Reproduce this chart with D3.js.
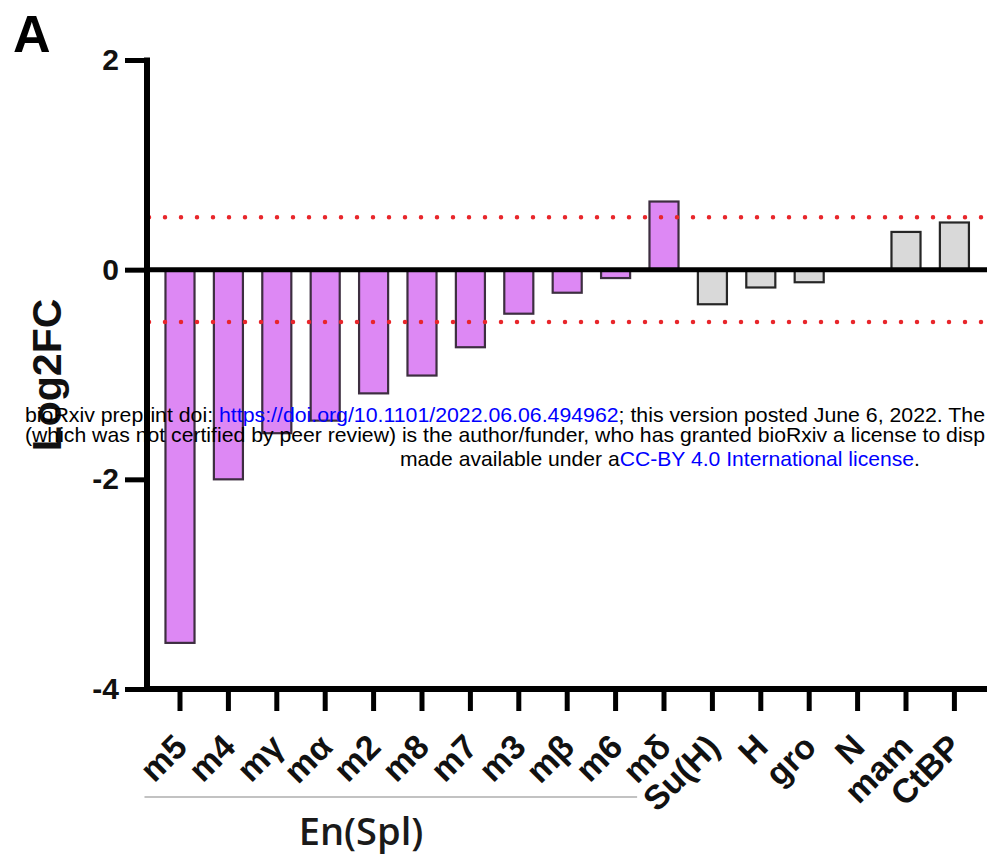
<!DOCTYPE html>
<html>
<head>
<meta charset="utf-8">
<script src="https://cdn.jsdelivr.net/npm/d3@7"></script>
<style>
    body { margin: 0; background: #ffffff; }
    svg { display: block; }
</style>
</head>
<body>
<div id="chart-container"></div>
<script>
// values
var genes = ["m5", "m4", "mγ", "mα", "m2", "m8", "m7", "m3", "mβ", "m6", "mδ", "Su(H)", "H", "gro", "N", "mam", "CtBP"];
var log2fc = [-3.56, -2.00, -1.56, -1.44, -1.18, -1.01, -0.74, -0.42, -0.22, -0.08, 0.65, -0.33, -0.17, -0.12, 0, 0.36, 0.45];
var groupFlag = ["spl", "spl", "spl", "spl", "spl", "spl", "spl", "spl", "spl", "spl", "spl", "other", "other", "other", "other", "other", "other"];
var enSplGenes = ["m5", "m4", "mγ", "mα", "m2", "m8", "m7", "m3", "mβ", "m6"];
var yTicks = [2, 0, -2, -4];
var cutoffs = [0.5, -0.5];

var barData = genes.map(function (g, i) {
    return { gene: g, value: log2fc[i], group: groupFlag[i] };
});

var width = 987;
var height = 861;

var svg = d3.select("#chart-container")
    .append("svg")
    .attr("width", width)
    .attr("height", height);

var xScale = d3.scaleBand()
    .domain(genes)
    .range([155.8, 155.8 + genes.length * 48.4])
    .paddingInner(0.4)
    .paddingOuter(0.2);

var yScale = d3.scaleLinear()
    .domain([-4, 2])
    .range([689, 60]);

var axisX = 147;

// bars
svg.selectAll("rect.bar")
    .data(barData)
    .enter()
    .append("rect")
    .attr("class", "bar")
    .attr("x", function (d) { return xScale(d.gene); })
    .attr("y", function (d) { return yScale(Math.max(0, d.value)); })
    .attr("width", xScale.bandwidth())
    .attr("height", function (d) { return Math.abs(yScale(d.value) - yScale(0)); })
    .attr("fill", function (d) { return d.group === "spl" ? "#dd88f4" : "#d9d9d9"; })
    .attr("stroke", function (d) { return d.group === "spl" ? "#3d2e40" : "#262626"; })
    .attr("stroke-width", 2.2)
    .style("display", function (d) { return d.value === 0 ? "none" : null; });

// zero line
svg.append("line")
    .attr("x1", axisX)
    .attr("x2", width)
    .attr("y1", yScale(0))
    .attr("y2", yScale(0))
    .attr("stroke", "#000")
    .attr("stroke-width", 5);

// red dotted cutoff lines
svg.selectAll("line.cutoff")
    .data(cutoffs)
    .enter()
    .append("line")
    .attr("class", "cutoff")
    .attr("x1", 149)
    .attr("x2", width)
    .attr("y1", function (d) { return yScale(d); })
    .attr("y2", function (d) { return yScale(d); })
    .attr("stroke", "#e8262b")
    .attr("stroke-width", 4.5)
    .attr("stroke-linecap", "round")
    .attr("stroke-dasharray", "0,16");

// Y axis
var yAxis = svg.append("g")
    .attr("transform", "translate(" + axisX + ",0)")
    .call(d3.axisLeft(yScale).tickValues(yTicks).tickSize(22).tickPadding(6)
        .tickFormat(function (d) { return String(d); }));
yAxis.select(".domain")
    .attr("d", "M0," + (yScale(2) - 2.5) + "V" + (yScale(-4) + 2.5))
    .attr("stroke-width", 6);
yAxis.selectAll(".tick line").attr("stroke-width", 5);
yAxis.selectAll("text")
    .attr("font-family", "'Liberation Sans', Arial, sans-serif")
    .attr("font-weight", "bold")
    .attr("font-size", 30)
    .attr("fill", "#111");

// X axis
var xAxis = svg.append("g")
    .attr("transform", "translate(0," + yScale(-4) + ")")
    .call(d3.axisBottom(xScale).tickSize(22).tickSizeOuter(0));
xAxis.select(".domain")
    .attr("d", "M" + (axisX - 3) + ",0H" + width)
    .attr("stroke-width", 6);
xAxis.selectAll(".tick line").attr("stroke-width", 5);
xAxis.selectAll("text")
    .attr("font-family", "'Liberation Sans', Arial, sans-serif")
    .attr("font-weight", "bold")
    .attr("font-size", 34)
    .attr("fill", "#111")
    .attr("text-anchor", "end")
    .attr("y", 0)
    .attr("dy", 0)
    .attr("transform", "translate(9,60) rotate(-45)");

// group underline and label
svg.append("line")
    .attr("x1", xScale(enSplGenes[0]) - 21)
    .attr("x2", xScale(enSplGenes[enSplGenes.length - 1]) + xScale.bandwidth() + 7)
    .attr("y1", 797)
    .attr("y2", 797)
    .attr("stroke", "#c2c2c2")
    .attr("stroke-width", 2);

svg.append("text")
    .attr("x", 361)
    .attr("y", 845)
    .attr("text-anchor", "middle")
    .attr("font-family", "'Open Sans', sans-serif")
    .attr("font-weight", 600)
    .attr("font-size", 38)
    .attr("fill", "#1a1a1a")
    .text("En(Spl)");

// Y axis label
svg.append("text")
    .attr("transform", "translate(61,375) rotate(-90)")
    .attr("text-anchor", "middle")
    .attr("font-family", "'Liberation Sans', Arial, sans-serif")
    .attr("font-weight", "bold")
    .attr("font-size", 41)
    .attr("fill", "#111")
    .text("Log2FC");

// panel letter
svg.append("text")
    .attr("x", 13)
    .attr("y", 52)
    .attr("font-family", "'Liberation Sans', Arial, sans-serif")
    .attr("font-weight", "bold")
    .attr("font-size", 52)
    .attr("fill", "#000")
    .text("A");

// preprint stamp (cut at the right edge as in the figure)
var stampFont = "'Liberation Sans', Arial, sans-serif";
var line1 = svg.append("text")
    .attr("x", 25)
    .attr("y", 422)
    .attr("font-family", stampFont)
    .attr("font-size", 21)
    .attr("textLength", 960)
    .attr("lengthAdjust", "spacingAndGlyphs")
    .attr("fill", "#000");
line1.append("tspan").text("bioRxiv preprint doi: ");
line1.append("tspan").attr("fill", "#0000ff").text("https://doi.org/10.1101/2022.06.06.494962");
line1.append("tspan").text("; this version posted June 6, 2022. The");

svg.append("text")
    .attr("x", 25)
    .attr("y", 442)
    .attr("font-family", stampFont)
    .attr("font-size", 21)
    .attr("textLength", 960)
    .attr("lengthAdjust", "spacingAndGlyphs")
    .attr("fill", "#000")
    .text("(which was not certified by peer review) is the author/funder, who has granted bioRxiv a license to disp");

var line3 = svg.append("text")
    .attr("x", 400)
    .attr("y", 466)
    .attr("font-family", stampFont)
    .attr("font-size", 21)
    .attr("textLength", 520)
    .attr("lengthAdjust", "spacingAndGlyphs")
    .attr("fill", "#000");
line3.append("tspan").text("made available under a");
line3.append("tspan").attr("fill", "#0000ff").text("CC-BY 4.0 International license");
line3.append("tspan").text(".");
</script>
</body>
</html>
